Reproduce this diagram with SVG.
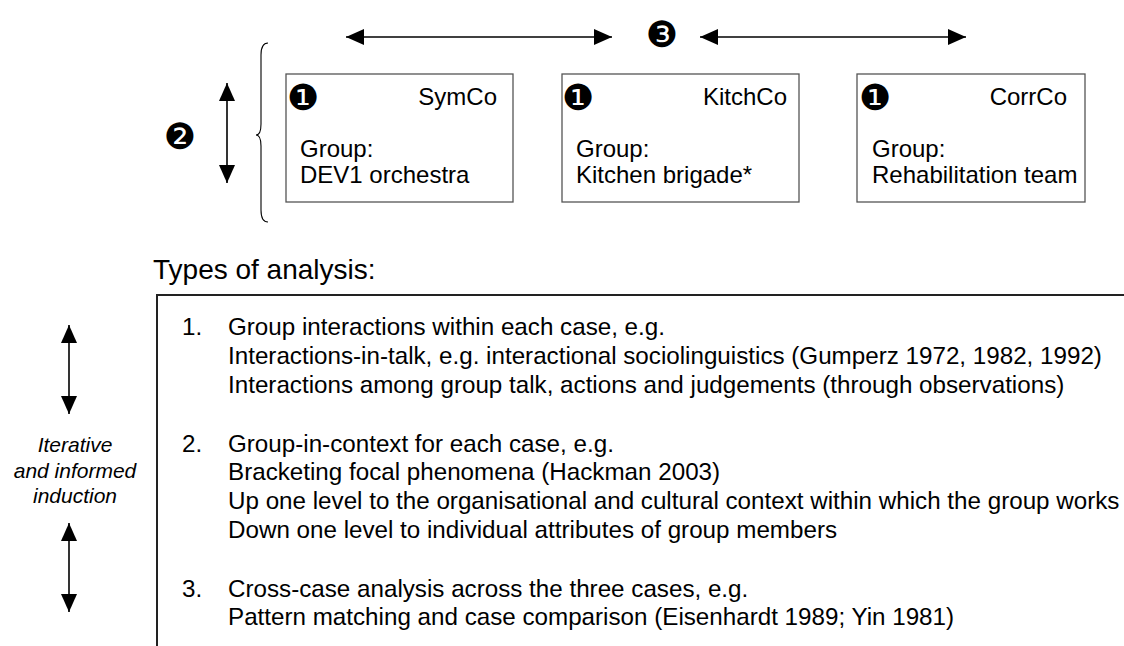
<svg xmlns="http://www.w3.org/2000/svg" width="1124" height="646" viewBox="0 0 1124 646">
<style>
.t{font-family:"Liberation Sans",Arial,sans-serif;font-size:24px;fill:#000}
.l{font-size:24.2px}
.h{font-family:"Liberation Sans",Arial,sans-serif;font-size:28px;fill:#000}
.it{font-family:"Liberation Sans",Arial,sans-serif;font-size:21px;font-style:italic;fill:#000;text-anchor:middle}
.num{font-family:"DejaVu Sans",sans-serif;font-size:36px;fill:#000;text-anchor:middle}
.box{fill:#fff;stroke:#555;stroke-width:1.3}
.conn{stroke:#000;stroke-width:1.6;fill:none}
.r{text-anchor:end}
</style>
<defs>
<marker id="ah" viewBox="0 0 18 16" refX="18" refY="8" markerWidth="18" markerHeight="16" markerUnits="userSpaceOnUse" orient="auto-start-reverse">
<path d="M0,0 L18,8 L0,16 Z" fill="#000"/>
</marker>
</defs>
<rect width="1124" height="646" fill="#fff"/>
<g id="connectors">
<line class="conn" x1="346" y1="37" x2="612" y2="37" marker-start="url(#ah)" marker-end="url(#ah)"/>
<line class="conn" x1="700" y1="37" x2="966" y2="37" marker-start="url(#ah)" marker-end="url(#ah)"/>
<line class="conn" x1="227" y1="83" x2="227" y2="183" marker-start="url(#ah)" marker-end="url(#ah)"/>
<line class="conn" x1="69" y1="325" x2="69" y2="414" marker-start="url(#ah)" marker-end="url(#ah)"/>
<line class="conn" x1="69" y1="523" x2="69" y2="612" marker-start="url(#ah)" marker-end="url(#ah)"/>
<path d="M268,43 Q261,43 261,55 L261,124 Q261,135 256,135 Q261,135 261,146 L261,210 Q261,222 268,222" fill="none" stroke="#000" stroke-width="1.1"/>
</g>
<g id="label3"><text class="num" x="662" y="47">❸</text></g>
<g id="label2"><text class="num" x="180" y="149">❷</text></g>
<g id="symco">
<rect class="box" x="286" y="74" width="227" height="128"/>
<text class="num" x="303" y="110">❶</text>
<text class="t r" x="497" y="105">SymCo</text>
<text class="t" x="300" y="157">Group:</text>
<text class="t" x="300" y="183">DEV1 orchestra</text>
</g>
<g id="kitchco">
<rect class="box" x="562" y="74" width="237" height="128"/>
<text class="num" x="578" y="110">❶</text>
<text class="t r" x="787" y="105">KitchCo</text>
<text class="t" x="576" y="157">Group:</text>
<text class="t" x="576" y="183">Kitchen brigade*</text>
</g>
<g id="corrco">
<rect class="box" x="857" y="74" width="228" height="128"/>
<text class="num" x="875" y="110">❶</text>
<text class="t r" x="1067" y="105">CorrCo</text>
<text class="t" x="872" y="157">Group:</text>
<text class="t" x="872" y="183">Rehabilitation team</text>
</g>
<g id="title"><text class="h" x="153" y="279">Types of analysis:</text></g>
<g id="induction">
<text class="it" x="75" y="452">Iterative</text>
<text class="it" x="75" y="478">and informed</text>
<text class="it" x="75" y="503">induction</text>
</g>
<g id="analysis">
<path d="M157,646 L157,295 L1124,295" fill="none" stroke="#222" stroke-width="2"/>
<text class="t l" x="182" y="335">1.</text>
<text class="t l" x="228" y="335">Group interactions within each case, e.g.</text>
<text class="t l" x="228" y="364">Interactions-in-talk, e.g. interactional sociolinguistics (Gumperz 1972, 1982, 1992)</text>
<text class="t l" x="228" y="393">Interactions among group talk, actions and judgements (through observations)</text>
<text class="t l" x="182" y="452">2.</text>
<text class="t l" x="228" y="452">Group-in-context for each case, e.g.</text>
<text class="t l" x="228" y="480">Bracketing focal phenomena (Hackman 2003)</text>
<text class="t l" x="228" y="509">Up one level to the organisational and cultural context within which the group works</text>
<text class="t l" x="228" y="538">Down one level to individual attributes of group members</text>
<text class="t l" x="182" y="597">3.</text>
<text class="t l" x="228" y="597">Cross-case analysis across the three cases, e.g.</text>
<text class="t l" x="228" y="625">Pattern matching and case comparison (Eisenhardt 1989; Yin 1981)</text>
</g>
</svg>
